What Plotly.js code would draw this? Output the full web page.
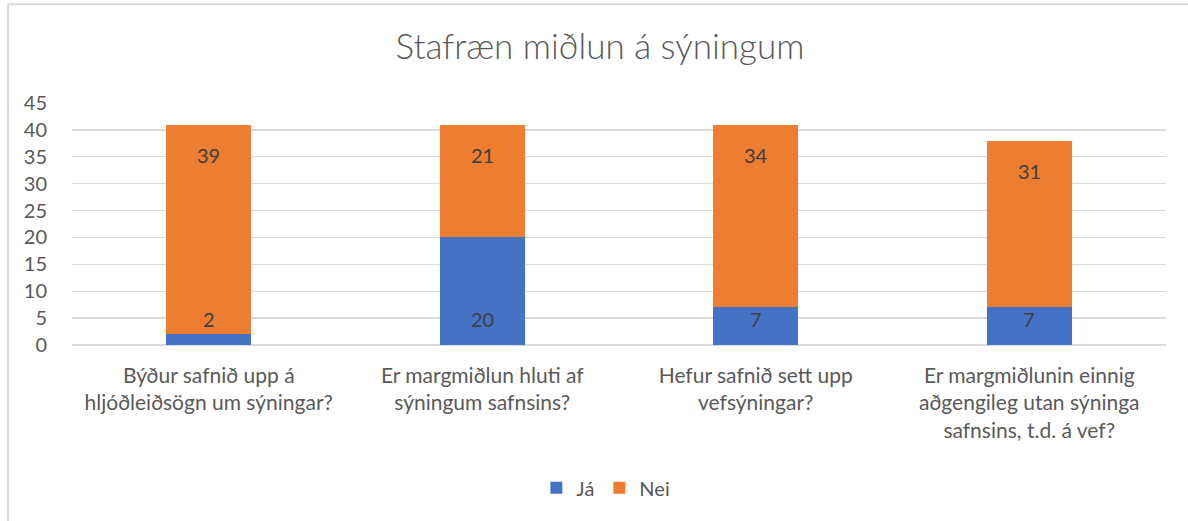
<!DOCTYPE html>
<html>
<head>
<meta charset="utf-8">
<script src="https://cdn.plot.ly/plotly-3.0.1.min.js"></script>
<style>
html,body{margin:0;padding:0;background:#fff;}
#chart{width:1188px;height:521px;}
</style>
</head>
<body>
<div id="chart"></div>
<script>
const categories = [
  "Býður safnið upp á<br>hljóðleiðsögn um sýningar?",
  "Er margmiðlun hluti af<br>sýningum safnsins?",
  "Hefur safnið sett upp<br>vefsýningar?",
  "Er margmiðlunin einnig<br>aðgengileg utan sýninga<br>safnsins, t.d. á vef?"
];
const seriesNames = ["Já", "Nei"];
const jaValues = [2, 20, 7, 7];
const neiValues = [39, 21, 34, 31];
const yTicks = [0, 5, 10, 15, 20, 25, 30, 35, 40, 45];

const textColor = "#595959";
const font = "Lato, 'Open Sans', sans-serif";

const traces = [
  {type: "bar", name: seriesNames[0], x: categories, y: jaValues,
   marker: {color: "#4472C4"}, hoverinfo: "y+name"},
  {type: "bar", name: seriesNames[1], x: categories, y: neiValues,
   marker: {color: "#ED7D31"}, hoverinfo: "y+name"}
];

const annotations = [];
categories.forEach((c, i) => {
  annotations.push({x: c, y: 0, xref: "x", yref: "y", text: String(jaValues[i]),
    showarrow: false, yanchor: "middle", yshift: 26,
    font: {family: font, size: 20, color: "#404040"}});
  annotations.push({x: c, y: jaValues[i] + neiValues[i], xref: "x", yref: "y", text: String(neiValues[i]),
    showarrow: false, yanchor: "middle", yshift: -30,
    font: {family: font, size: 20, color: "#404040"}});
});

const layout = {
  width: 1188, height: 521,
  margin: {l: 72, r: 22, t: 103, b: 176},
  paper_bgcolor: "#fff", plot_bgcolor: "#fff",
  barmode: "stack",
  bargap: 0.69,
  font: {family: font, color: textColor},
  title: {text: "Stafræn miðlun á sýningum", x: 0.505, xref: "container", xanchor: "center",
          y: 0.91, yref: "container", yanchor: "middle",
          font: {family: "Lato Light, Lato, sans-serif", size: 35, color: textColor, weight: 300}},
  xaxis: {type: "category", tickfont: {family: font, size: 21, color: textColor},
          showgrid: false, showline: false, ticks: "", ticklabelstandoff: 16, fixedrange: true},
  yaxis: {range: [0, 45], tickvals: yTicks, ticktext: yTicks.map(String),
          tickfont: {family: font, size: 20, color: textColor},
          showgrid: true, gridcolor: "#D9D9D9", gridwidth: 1.3,
          zeroline: true, zerolinecolor: "#D9D9D9", zerolinewidth: 1.3,
          showline: false, ticks: "", ticklabelstandoff: 24, fixedrange: true},
  legend: {orientation: "h", x: 0.488, xanchor: "center", y: -0.59, yanchor: "middle",
           font: {family: font, size: 20, color: textColor}, traceorder: "normal",
           itemwidth: 30},
  annotations: annotations,
  shapes: [
    {type: "line", xref: "paper", yref: "paper", x0: -0.0585, x1: 1.03, y0: 1.408, y1: 1.408,
     line: {color: "#D9D9D9", width: 2}},
    {type: "line", xref: "paper", yref: "paper", x0: -0.0585, x1: -0.0585, y0: 1.408, y1: -0.75,
     line: {color: "#D9D9D9", width: 2}}
  ],
  showlegend: true
};

Plotly.newPlot("chart", traces, layout, {displayModeBar: false, staticPlot: true});
</script>
</body>
</html>
